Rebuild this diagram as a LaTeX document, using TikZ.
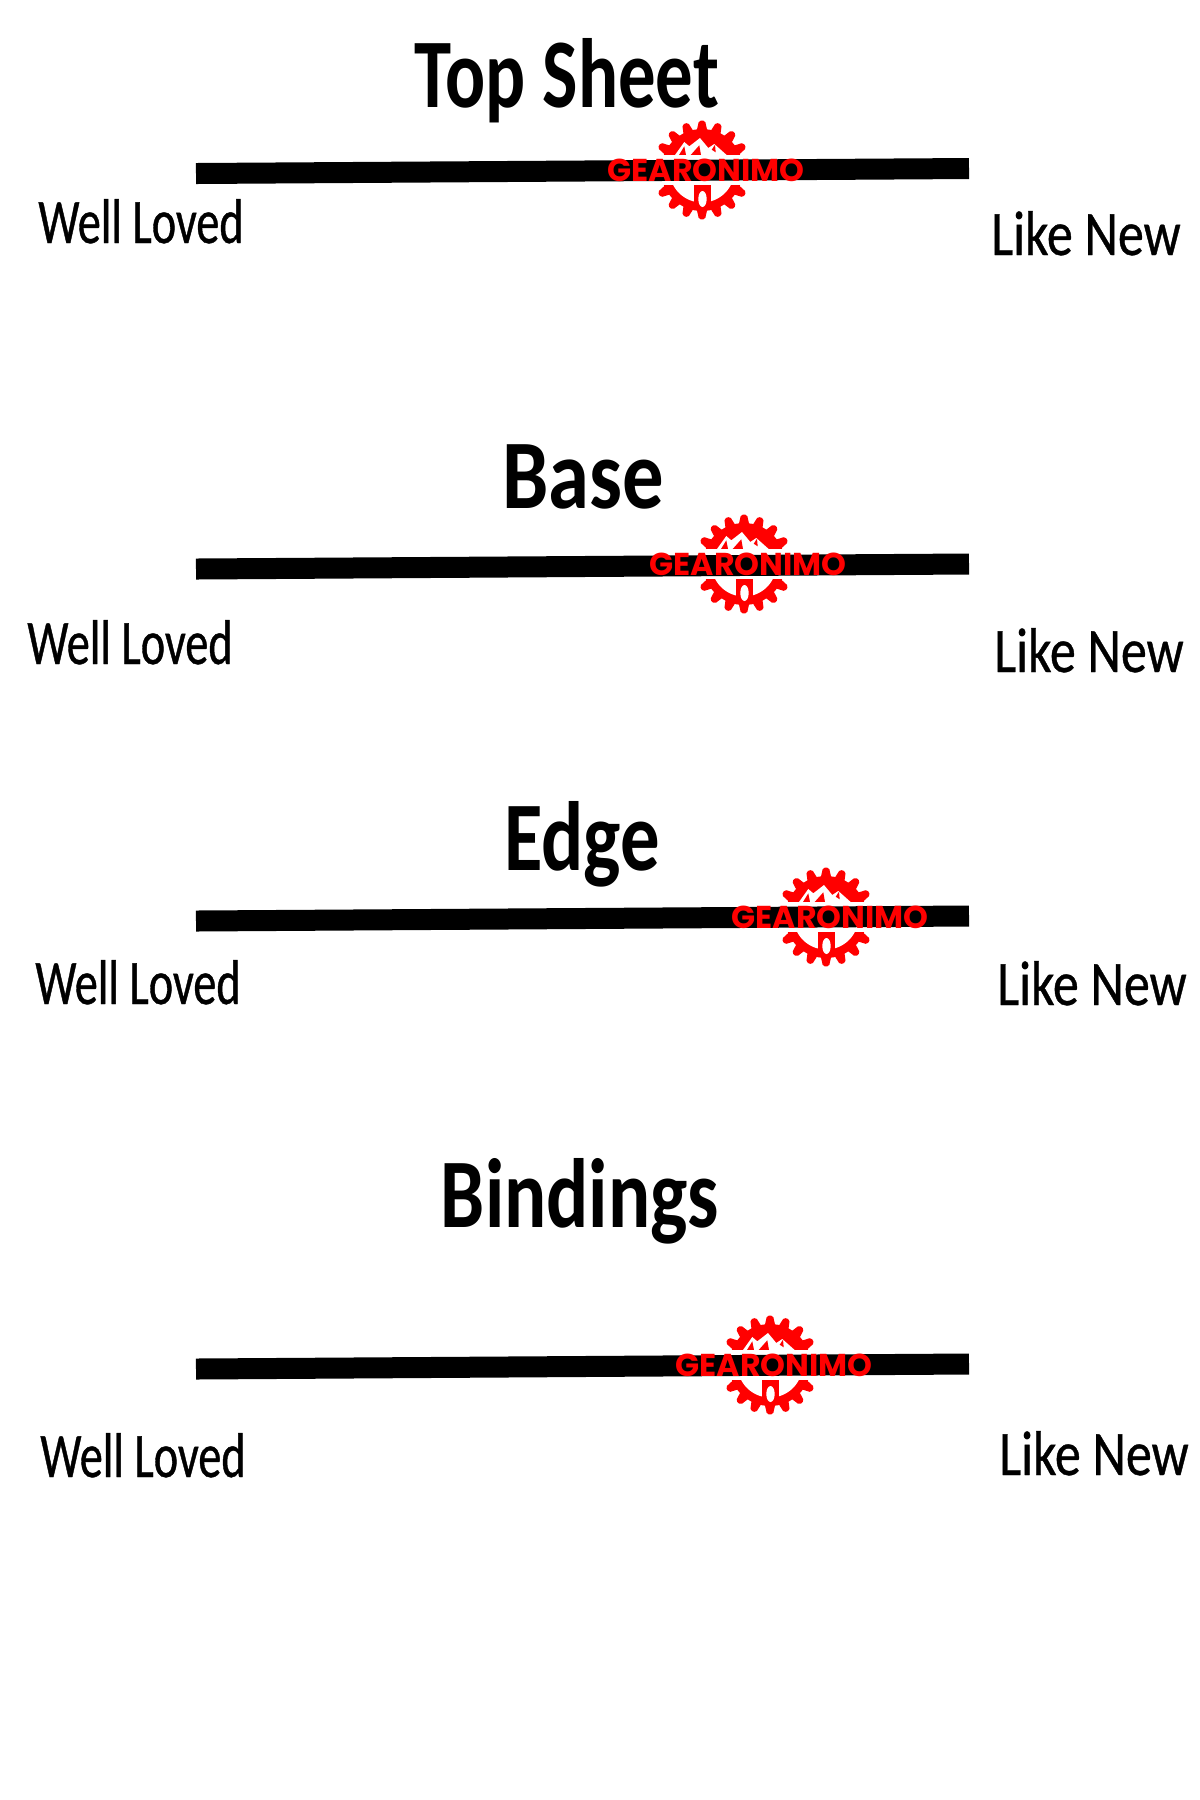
\documentclass[tikz,border=0pt]{standalone}
\usepackage{fontspec}
\setmainfont{Carlito}
\newfontfamily\headfont[FakeStretch=0.8]{Carlito}
\newfontfamily\lovedfont[FakeStretch=0.73,FakeBold=0.6]{Carlito}
\newfontfamily\likefont[FakeStretch=0.82,FakeBold=0.6]{Carlito}
\newfontfamily\logofont{Poppins}
\usetikzlibrary{calc}

\tikzset{
	gearlogo/.pic={
		%%Top half of the gear with the mountains
		\begin{scope}
			\clip (-0.6, 0.155) rectangle (0.6, 0.6);
			\fill [red] (0, 0) circle (0.41);
			\foreach \a in {10, 30, ..., 170}
				\fill [red, rounded corners=0.5pt] (\a-8:0.39) -- (\a-3.5:0.495) -- (\a+3.5:0.495) -- (\a+8:0.39) -- cycle;
			\fill [white] (-0.27, 0.15) -- (-0.177, 0.28) -- (-0.127, 0.237) -- (-0.02, 0.32) -- (0.063, 0.22) -- (0.123, 0.26) -- (0.247, 0.15) -- cycle;
			\fill [red] (-0.23, 0.15) -- (-0.177, 0.237) -- (-0.16, 0.15) -- cycle;
			\fill [red] (-0.113, 0.15) -- (-0.027, 0.247) -- (-0.01, 0.15) -- cycle;
			\fill [red] (0.097, 0.203) -- (0.13, 0.253) -- (0.137, 0.177) -- cycle;
		\end{scope}
		%%Bottom half of the gear with the spoke
		\begin{scope}
			\clip (-0.6, -0.155) rectangle (0.6, -0.6);
			\fill [red] (0, 0) circle (0.41);
			\foreach \a in {190, 210, ..., 350}
				\fill [red, rounded corners=0.5pt] (\a-8:0.39) -- (\a-3.5:0.495) -- (\a+3.5:0.495) -- (\a+8:0.39) -- cycle;
			\fill [white] (0, 0) circle (0.325);
			\fill [red] (-0.08, -0.1) rectangle (0.09, -0.38);
			\fill [white] (0.005, -0.29) ellipse (0.042 and 0.08);
		\end{scope}
		\node [logotext] (-name) at (0.04, 0) {GEARONIMO};
	}
}

\begin{document}
\begin{tikzpicture}

		\tikzstyle{bar}     = [line width=0.21cm, black]
		\tikzstyle{heading} = [anchor=base, inner sep=0pt, font=\headfont\fontsize{28}{28}\selectfont\bfseries]
		\tikzstyle{loved}   = [anchor=base, inner sep=0pt, font=\lovedfont\fontsize{18}{18}\selectfont]
		\tikzstyle{likenew} = [anchor=base, inner sep=0pt, font=\likefont\fontsize{18}{18}\selectfont]
		\tikzstyle{logotext} = [inner sep=0pt, text=red, font=\logofont\fontsize{9}{9}\selectfont\bfseries]

		\useasboundingbox (0, 0) rectangle (12, -18);

		%%Top Sheet
		\node [heading] (sheet) at (5.67, -1.07) {\addfontfeature{FakeStretch=0.76}Top Sheet};
		\node [loved] (sheetl) at (1.41, -2.43) {Well Loved};
		\node [likenew] (sheetr) at (10.86, -2.55) {Like New};
		\coordinate (sheeta) at (1.96, -1.735);
		\coordinate (sheetb) at (9.69, -1.685);
		\draw [bar] (sheeta)--(sheetb);
		\pic (sheetlogo) at (7.02, -1.70) {gearlogo};

		%%Base
		\node [heading] (base) at (5.83, -5.08) {\addfontfeature{FakeStretch=0.84}Base};
		\node [loved] (basel) at (1.30, -6.64) {Well Loved};
		\node [likenew] (baser) at (10.89, -6.72) {Like New};
		\coordinate (basea) at (1.96, -5.69);
		\coordinate (baseb) at (9.69, -5.64);
		\draw [bar] (basea)--(baseb);
		\pic (baselogo) at (7.44, -5.64) {gearlogo};

		%%Edge
		\node [heading] (edge) at (5.82, -8.70) {Edge};
		\node [loved] (edgel) at (1.38, -10.04) {Well Loved};
		\node [likenew] (edger) at (10.92, -10.05) {Like New};
		\coordinate (edgea) at (1.96, -9.21);
		\coordinate (edgeb) at (9.69, -9.16);
		\draw [bar] (edgea)--(edgeb);
		\pic (edgelogo) at (8.26, -9.17) {gearlogo};

		%%Bindings
		\node [heading] (bind) at (5.80, -12.27) {Bindings};
		\node [loved] (bindl) at (1.43, -14.77) {Well Loved};
		\node [likenew] (bindr) at (10.94, -14.75) {Like New};
		\coordinate (binda) at (1.96, -13.69);
		\coordinate (bindb) at (9.69, -13.64);
		\draw [bar] (binda)--(bindb);
		\pic (bindlogo) at (7.70, -13.65) {gearlogo};

	\end{tikzpicture}
\end{document}
